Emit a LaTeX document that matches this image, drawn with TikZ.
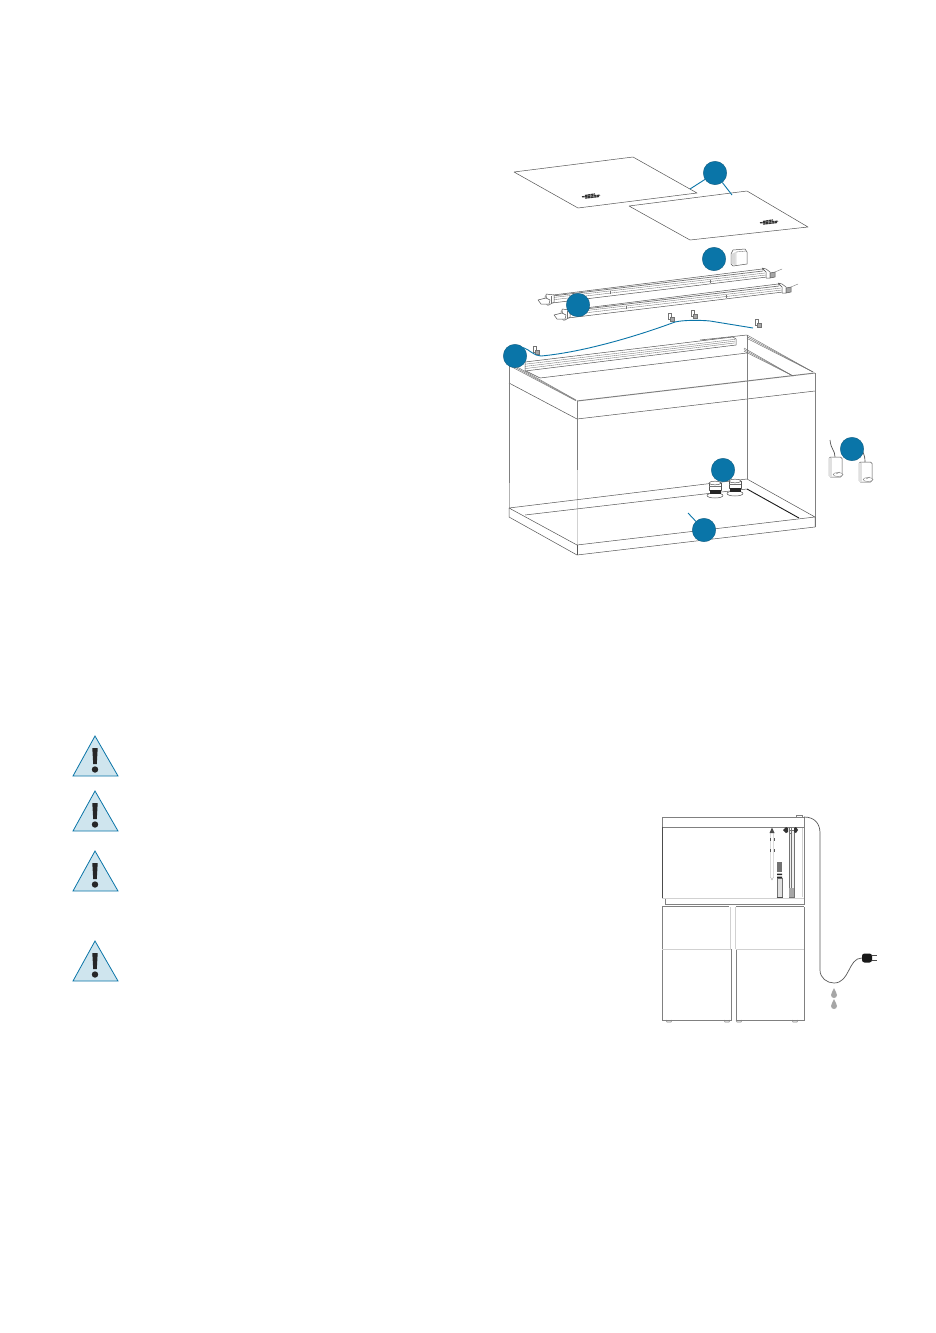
\documentclass[tikz,border=0pt]{standalone}
\usepackage{xcolor}
\usetikzlibrary{calc}
\definecolor{petrol}{HTML}{0A75A8}
\definecolor{paleblue}{HTML}{CFE5EE}
\definecolor{linegray}{HTML}{555555}
\begin{document}
\begin{tikzpicture}[x=1pt, y=-1pt]
	\tikzstyle{part}=[line width=0.5pt, draw=linegray, line join=round]
	\tikzstyle{thinpart}=[line width=0.35pt, draw=black!55]
	\tikzstyle{edgeline}=[line width=0.55pt, draw=black!50]
	\tikzstyle{pale}=[line width=0.9pt, draw=black!18]
	\tikzstyle{callout}=[circle, minimum size=23.5pt, inner sep=0pt, fill=petrol, draw=petrol!70!black, line width=0.3pt]
	\tikzstyle{leader}=[line width=0.9pt, draw=petrol]
	\tikzstyle{warnsign}=[line width=0.8pt, draw=petrol, fill=paleblue, line join=miter]
	\useasboundingbox (0,0) rectangle (936,1333);
	\fill[white] (0,0) rectangle (936,1333);

	% cover panels
	\draw[part] (514,172) -- (633,157) -- (697,193) -- (578,208) -- cycle;
	\draw[part] (629,206) -- (747,191) -- (808,227) -- (690,240) -- cycle;
	\foreach \x/\y in {591/196, 769/222} {
		\foreach \k/\w in {-1/5, 0/9, 1/7} {
			\draw[line width=1.3pt, black!80, dash pattern=on 2.5pt off 0.5pt] (\x-\w+\k,\y+\k*1.3+0.8) -- (\x+\w+\k,\y+\k*1.3-0.8);
		}
	}

	% small lamp block
	\draw[part, fill=white] (731,254) -- (733,250) -- (745,249) -- (747,252) -- (747,264) -- (733,266) -- (731,264) -- cycle;
	\draw[thinpart] (736,252) -- (746,251) (736,252) -- (736,265.5);
	\fill[black!15] (731.5,254) -- (735.5,252) -- (735.5,265) -- (731.5,264) -- cycle;

	% the two light bars
	\foreach \dx/\dy in {0/0, 16/15} {
		\begin{scope}[shift={(\dx,\dy)}]
			\draw[part, fill=white] (545,296) -- (762,269) -- (767,272) -- (767,277) -- (552,303) -- (545,300) -- cycle;
			\draw[line width=0.7pt, black!55] (548,296.5) -- (763,271);
			\draw[thinpart] (549,298) -- (765,273) (551,300) -- (766,275);
			\draw[thinpart] (610,294) -- (610,291) (710,283) -- (710,280);
			\draw[part, fill=white] (546,294) -- (554,295) -- (554,302) -- (549,305) -- (547,305) -- cycle;
			\draw[part, fill=white] (538,300) -- (546,298) -- (550,300) -- (549,304) -- (541,304) -- cycle;
			\draw[thinpart] (551,296) -- (551,303);
			\draw[part, fill=white] (762,268) -- (766,269) -- (770,272) -- (770,278) -- (766,278) -- (766,272) -- cycle;
			\draw[part, fill=black!35] (770,273) -- (775,272) -- (775,277) -- (770,278) -- cycle;
			\draw[thinpart] (775,272) -- (782,269);
		\end{scope}
	}

	% tank
	\draw[part] (509,383) -- (577,419) -- (815,391);
	\draw[edgeline] (509,363) -- (509,483);
	\draw[pale, line width=0.7pt, draw=black!30] (509,483) -- (509,508);
	\draw[edgeline] (577,401) -- (577,470);
	\draw[pale, line width=0.7pt] (577,470) -- (577,545);
	\draw[edgeline] (815,373) -- (815,527);
	\draw[edgeline] (747,335) -- (747,479);
	\draw[line width=1pt, black!50] (577,401) -- (815,373);
	\draw[part] (747,335) -- (700,340);
	\draw[part] (509,508) -- (747,479) -- (815,517) -- (577,545) -- cycle;
	\draw[part] (509,508) -- (509,517) -- (577,555) -- (815,527) -- (815,517);
	\draw[part] (577,545) -- (577,555);
	\draw[part] (525,515) -- (747,489);
	\draw[line width=0.9pt, black!90] (747,489) -- (799,518);

	% rim with the slots
	\draw[part] (525,362) -- (733,337) -- (736,339) -- (736,345) -- (525,371) -- cycle;
	\foreach \i in {1,...,3} {
		\draw[thinpart] (525,362+\i*2.2) -- (735,337.5+\i*1.8);
	}
	\draw[part] (540,378) -- (747,353);
	\draw[part] (526,371) -- (540,378);
	\foreach \i in {0,1,2} {
		\draw[edgeline] (511,363.5+\i*1.5) -- (576,400+\i*0.4);
		\draw[thinpart, line width=0.45pt] (747,335+\i*1.7) -- (813,372);
		\draw[thinpart, line width=0.45pt] (744,348+\i*1.6) -- (793,376);
	}

	% stone filters
	\foreach \x/\y in {715/483, 735/481} {
		\draw[part, fill=white] (\x,\y+12.5) ellipse (8 and 2.5);
		\draw[part, fill=white] (\x-6,\y) -- (\x-6,\y+7) -- (\x+6,\y+7) -- (\x+6,\y);
		\draw[part, fill=white] (\x,\y) ellipse (6 and 1.8);
		\fill[black!85] (\x-5.5,\y+7) rectangle (\x+5.5,\y+11);
		\draw[thinpart] (\x-6,\y+3) -- (\x+6,\y+3);
	}

	% pumps
	\foreach \x/\y in {829/457, 859/462} {
		\draw[part, fill=white, rounded corners=1.5pt] (\x,\y) rectangle (\x+13,\y+20);
		\fill[black!12] (\x+0.4,\y+1) rectangle (\x+3,\y+19.5);
		\draw[thinpart, fill=white] (\x+9,\y+17.5) ellipse (5 and 2);
		\draw[thinpart] (\x+7,\y+17) -- (\x+11,\y+15);
	}
	\draw[part, line width=0.7pt] (830,440) .. controls (831,450) and (835,450) .. (835,457);
	\draw[part, line width=0.7pt] (862,450) .. controls (864,455) and (865,456) .. (865,462);

	% clips of the hose
	\foreach \x/\y in {536/350, 671/317, 694/314, 758/323} {
		\draw[thinpart, fill=white] (\x-2.5,\y-4) rectangle (\x+0.5,\y+2);
		\draw[thinpart, fill=black!35] (\x-0.5,\y+0.5) rectangle (\x+3,\y+4);
	}

	% numbered parts
	\node[callout] (panels) at (715,173) {};
	\node[callout] (block) at (714,259) {};
	\node[callout] (bars) at (578,305) {};
	\node[callout] (hose) at (515,356) {};
	\node[callout] (stones) at (723,470) {};
	\node[callout] (pumps) at (852,449) {};
	\node[callout] (sand) at (704,530) {};
	\coordinate (panelA) at (690,189);
	\coordinate (panelB) at (732,195);
	\coordinate (sandEnd) at (688,513);
	\coordinate (hoseEnd) at (753,328);
	\path (panels) edge [leader] (panelA)
	(panels) edge [leader] (panelB)
	(sand) edge [leader] (sandEnd);
	\draw[leader] (hose.north east) .. controls (530,350) and (534,356) .. (541,356) .. controls (585,352) and (640,335) .. (675,322) .. controls (683,320) and (700,320) .. (710,321) -- (hoseEnd);

	% warnings
	\foreach \y in {736, 791, 851, 941} {
		\draw[warnsign] (95,\y) -- (118,\y+40) -- (73,\y+40) -- cycle;
		\fill[black!85] (92.3,\y+12) -- (97.7,\y+12) -- (96.8,\y+28) -- (93.2,\y+28) -- cycle;
		\fill[black!85] (95,\y+33.5) circle (3.2);
	}

	% tank on cabinet
	\draw[edgeline] (662,817) -- (804,817) (804,817) -- (804,899);
	\draw[edgeline] (662,817) -- (662,827);
	\draw[edgeline] (662,827) -- (804,827);
	\draw[line width=0.8pt, black!70] (662,827) -- (662,898);
	\draw[pale] (662,898) -- (804,898);
	\draw[pale] (802.5,828) -- (802.5,897);
	\draw[edgeline] (665,904.5) -- (804,904.5);
	\draw[edgeline] (665,899) -- (665,904.5) (804,899) -- (804,904.5);
	\draw[edgeline] (662,906.5) -- (729,906.5) (736,906.5) -- (804,906.5);
	\draw[edgeline] (662,906.5) -- (662,1020) -- (731,1020) -- (731,949);
	\draw[edgeline] (736,949) -- (736,1020) -- (804,1020) -- (804,906.5);
	\draw[pale] (662,949) -- (731,949) (736,949) -- (804,949);
	\draw[pale] (730,907) -- (730,949) (735.5,907) -- (735.5,949);
	\foreach \x in {669,727,739,795} {
		\draw[edgeline] (\x-3,1020) -- (\x-2,1022) -- (\x+2,1022) -- (\x+3,1020);
	}

	% heater
	\draw[thinpart, draw=black!40] (770.5,833) -- (770.5,877) -- (772,880) -- (773.5,877) -- (773.5,833);
	\fill[black!70] (772,827.5) -- (769.5,833) -- (774.5,833) -- cycle;
	\foreach \y in {838,849} {
		\draw[line width=0.5pt, black!65] (770,\y) -- (770,\y+3) (774,\y) -- (774,\y+3);
	}
	% inner filter
	\draw[thinpart, fill=black!12] (777,878) rectangle (782,897);
	\fill[black!55] (777,862) rectangle (782,872);
	\fill[black!85] (777,873.5) rectangle (782,875) (777,876.5) rectangle (782,878);
	\draw[line width=0.7pt, black!70] (776.5,897) -- (782.5,897);
	% tube and connectors
	\draw[thinpart, fill=black!6] (789,830) rectangle (794,897);
	\draw[thinpart] (791.5,830) -- (791.5,888);
	\fill[black!35] (789,888) rectangle (794,897);
	\fill[black!80] (783,830) -- (786,827) -- (788,828) -- (788,832) -- (786,833) -- cycle;
	\fill[black!80] (798,830) -- (796,827) -- (794,828) -- (794,832) -- (796,833) -- cycle;
	\draw[thinpart] (789,827) rectangle (791,833);
	\draw[edgeline] (796,817) -- (796,815.5) -- (802,815.5) -- (802,817);

	% cord with plug
	\node[inner sep=0pt, minimum width=10pt, minimum height=9pt, fill=black!90, rounded corners=2.5pt] (plug) at (867,958) {};
	\draw[line width=0.9pt, black!70] (plug.east)+(0,-2.5) -- +(5,-2.5) (plug.east)+(0,2.5) -- +(5,2.5);
	\draw[line width=0.7pt, black!65] (804,817) .. controls (815,817) and (820,824) .. (820,833) -- (820,970) .. controls (820,978) and (827,983) .. (834,983) .. controls (850,983) and (848,958) .. (plug.west);

	% water drops
	\foreach \y in {993, 1004} {
		\fill[black!35] (834,\y-5) .. controls (835,\y-2) and (837,\y) .. (837,\y+2) .. controls (837,\y+6) and (831,\y+6) .. (831,\y+2) .. controls (831,\y) and (833,\y-2) .. (834,\y-5) -- cycle;
	}
\end{tikzpicture}
\end{document}
